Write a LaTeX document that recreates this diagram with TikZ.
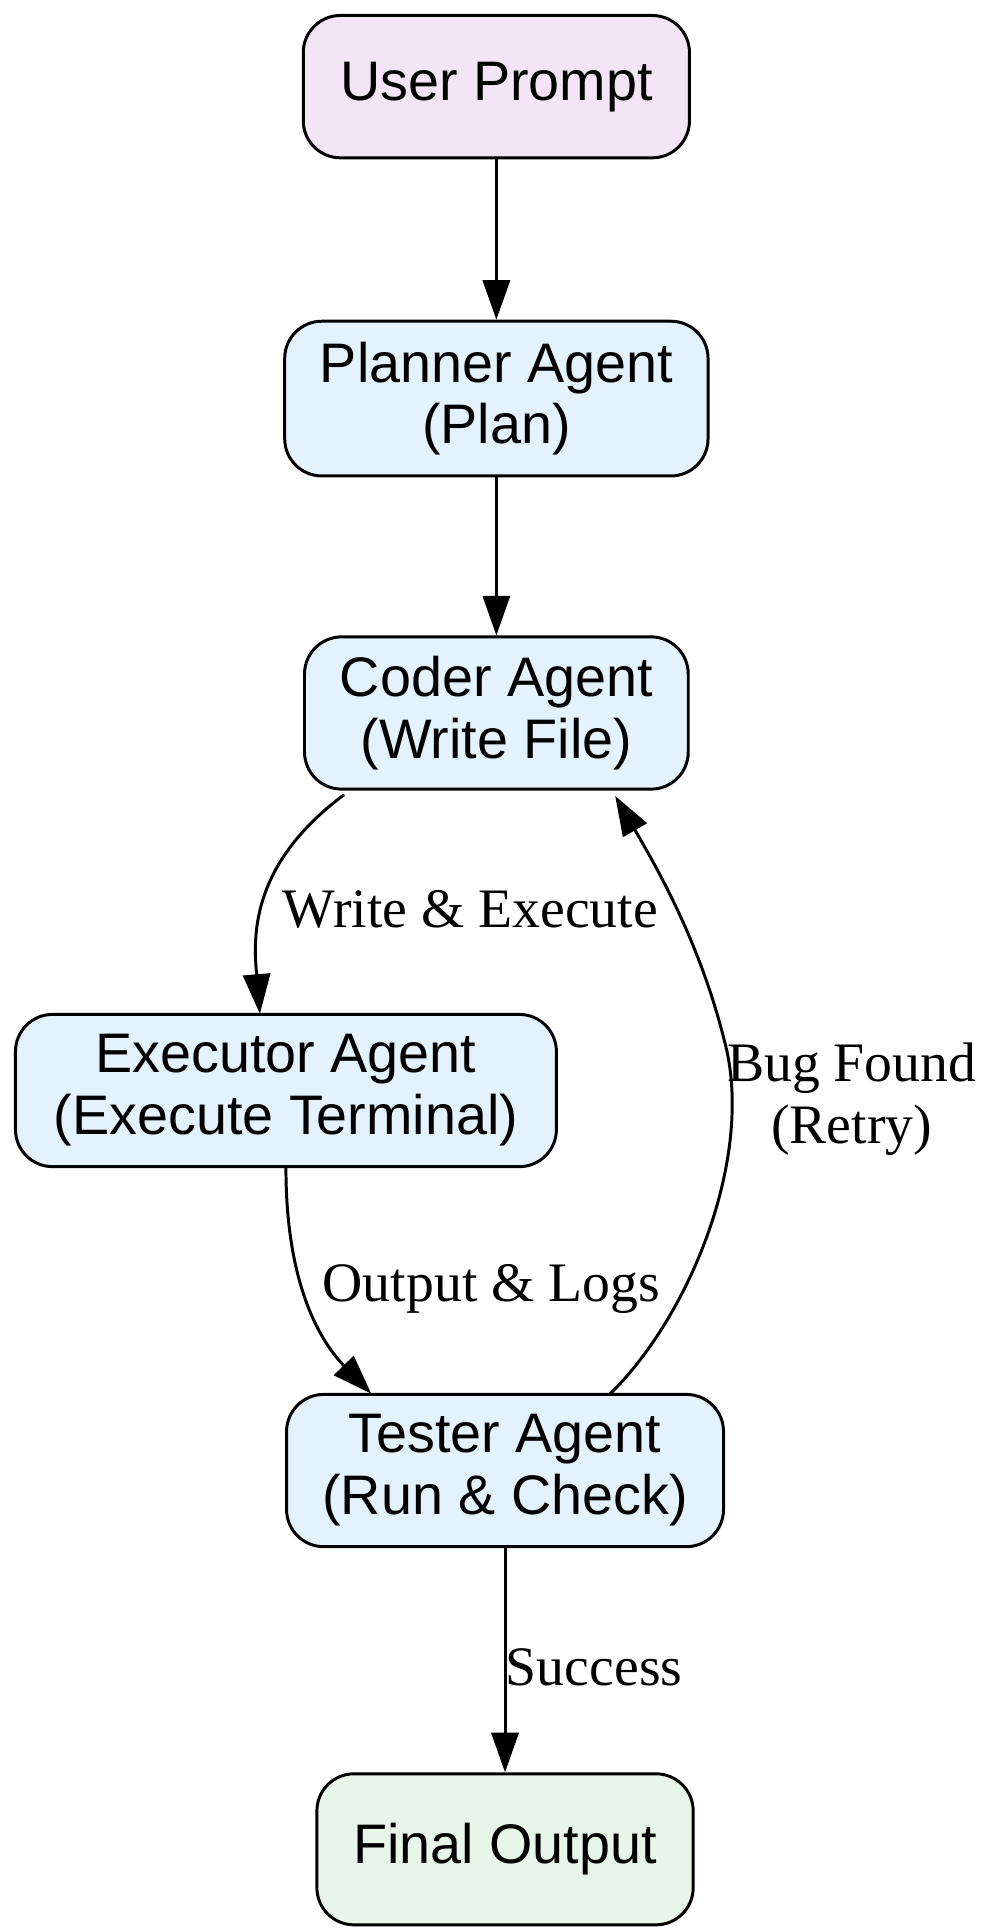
\documentclass[tikz,border=0pt]{standalone}
\usepackage{fontspec}
\setmainfont{Liberation Serif}
\newfontfamily\nodefont{Liberation Sans}
\usetikzlibrary{arrows.meta}
\definecolor{promptfill}{HTML}{F3E5F5}
\definecolor{agentfill}{HTML}{E3F2FD}
\definecolor{finalfill}{HTML}{E8F5E9}
\begin{document}
\begin{tikzpicture}[x=1pt,y=-1pt,
	box/.style={draw, line width=2.4pt, rounded corners=30pt, align=center,
		font=\nodefont\fontsize{45}{50}\selectfont, minimum height=123pt, inner sep=0pt},
	flow/.style={line width=2.4pt, -{Triangle[length=32pt,width=22pt]}},
	lbl/.style={font=\fontsize{45}{50}\selectfont, align=center}]

	\useasboundingbox (0,0) rectangle (800,1560);

	% nodes
	\node[box, fill=promptfill, minimum width=312pt, minimum height=115pt] (prompt) at (401,70) {User Prompt};
	\node[box, fill=agentfill, minimum width=342pt, minimum height=125pt] (planner) at (401,322) {Planner Agent\\(Plan)};
	\node[box, fill=agentfill, minimum width=310pt] (coder) at (401,576) {Coder Agent\\(Write File)};
	\node[box, fill=agentfill, minimum width=437pt] (executor) at (231,881) {Executor Agent\\(Execute Terminal)};
	\node[box, fill=agentfill, minimum width=353pt] (tester) at (408,1188) {Tester Agent\\(Run \& Check)};
	\node[box, fill=finalfill, minimum width=304pt, minimum height=122pt] (final) at (408,1494) {Final Output};

	% edge ends
	\coordinate (c-out) at (278,642);
	\coordinate (e-in) at (210,819);
	\coordinate (t-in) at (300,1126);
	\coordinate (t-out) at (493,1126);
	\coordinate (c-in) at (497,643);

	% edges
	\draw[flow] (prompt) -- (planner);
	\draw[flow] (planner) -- (coder);
	\draw[flow] (c-out) .. controls (200,700) and (205,760) .. (e-in);
	\draw[flow] (executor.south) .. controls (231,1040) and (260,1085) .. (t-in);
	\draw[flow] (t-out) .. controls (560,1060) and (610,930) .. (585,840) .. controls (565,760) and (530,700) .. (c-in);
	\draw[flow] (tester) -- (final);

	% labels
	\node[lbl] (l1) at (380,735) {Write \& Execute};
	\node[lbl] (l2) at (397,1041) {Output \& Logs};
	\node[lbl] (l3) at (688,888) {Bug Found\\(Retry)};
	\node[lbl] (l4) at (480,1347) {Success};

\end{tikzpicture}
\end{document}
